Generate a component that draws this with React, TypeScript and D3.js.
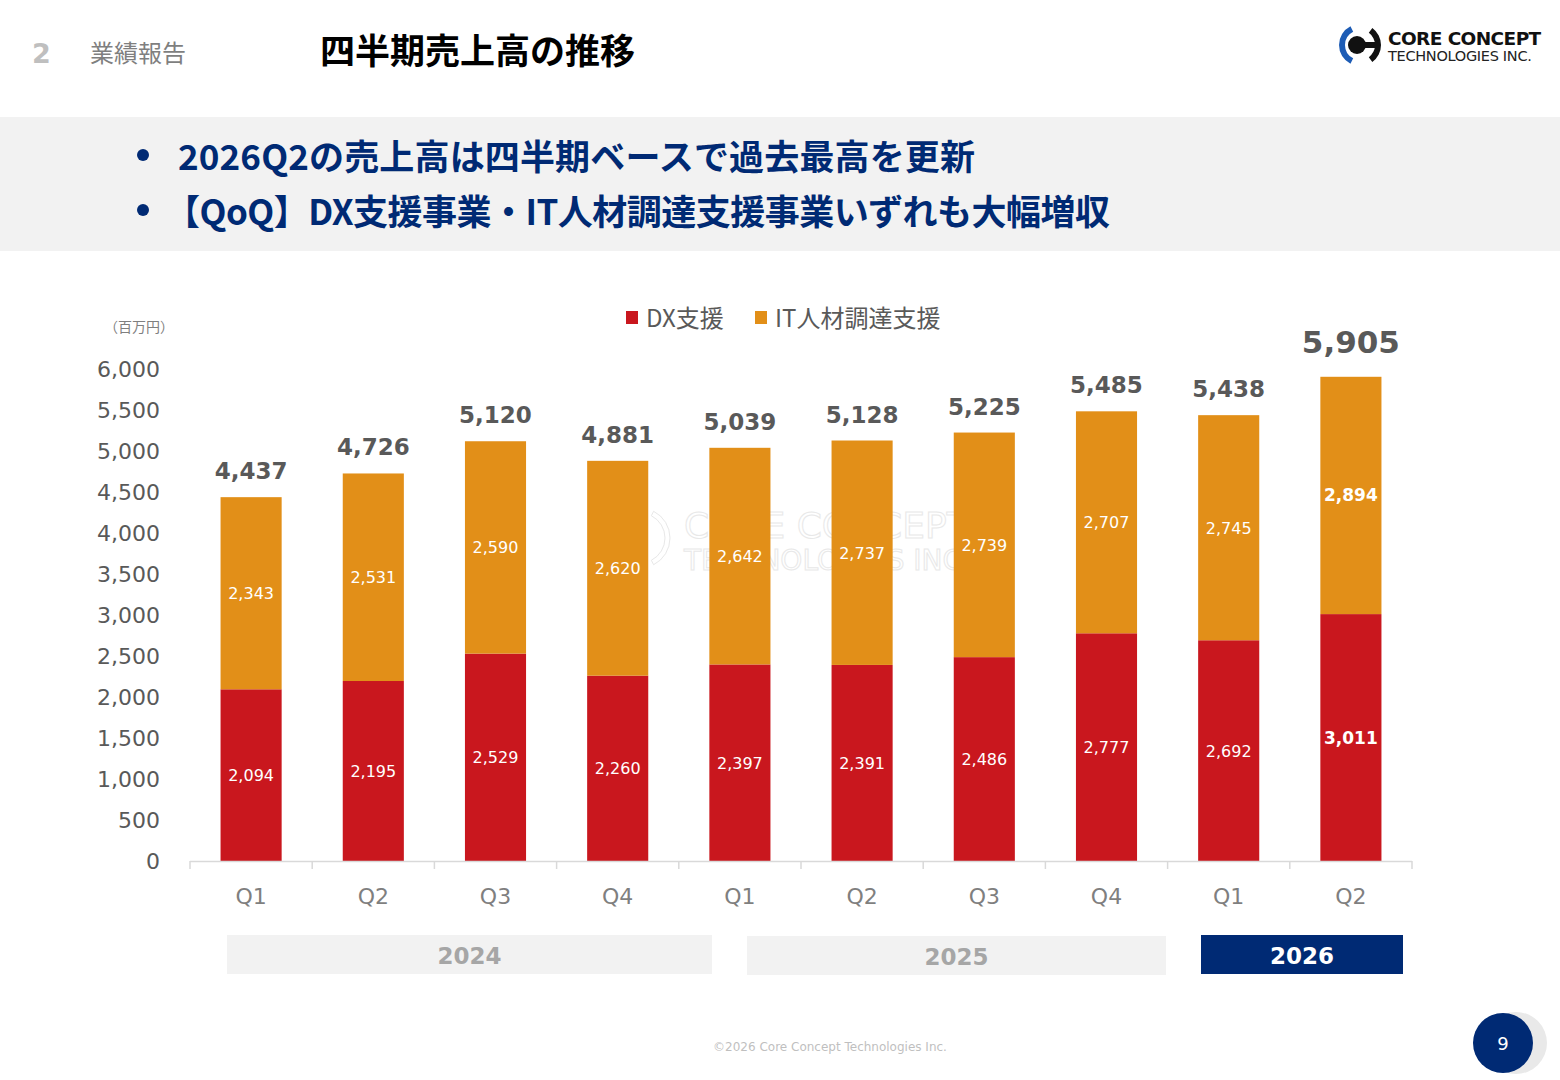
import React from "react";
import * as d3 from "d3";

const quarters = ["Q1", "Q2", "Q3", "Q4", "Q1", "Q2", "Q3", "Q4", "Q1", "Q2"];
const dxValues = [2094, 2195, 2529, 2260, 2397, 2391, 2486, 2777, 2692, 3011];
const itValues = [2343, 2531, 2590, 2620, 2642, 2737, 2739, 2707, 2745, 2894];
const totals = [4437, 4726, 5120, 4881, 5039, 5128, 5225, 5485, 5438, 5905];
const yTicks = [0, 500, 1000, 1500, 2000, 2500, 3000, 3500, 4000, 4500, 5000, 5500, 6000];
const seriesNames = ["DX支援", "IT人材調達支援"];
const yearLabels = ["2024", "2025", "2026"];
const bullets = [
  "2026Q2の売上高は四半期ベースで過去最高を更新",
  "【QoQ】DX支援事業・IT人材調達支援事業いずれも大幅増収",
];

const RED = "#c9171e";
const ORANGE = "#e28f18";
const NAVY = "#002a74";
const GREY = "#595959";
const NUM = "'DejaVu Sans', Verdana, sans-serif";
const JP = "'Noto Sans CJK JP', 'Noto Sans', sans-serif";

// layout of year boxes and bullet lines (pixel geometry, not data)
const yearBoxes = [
  { x0: 227, x1: 712, y: 935, fill: "#f2f2f2", text: "#a6a6a6" },
  { x0: 747, x1: 1166, y: 936, fill: "#f2f2f2", text: "#a6a6a6" },
  { x0: 1201, x1: 1403, y: 935, fill: NAVY, text: "#ffffff" },
];
const bulletLines = [
  { x: 178, w: 797 },
  { x: 165, w: 945 },
];

export default function App() {
  const x = d3.scaleBand<number>().domain(d3.range(quarters.length)).range([190, 1412]).paddingInner(0.5).paddingOuter(0.25);
  const y = d3.scaleLinear().domain([0, 6000]).range([861, 369]);
  const step = x.step();
  const bw = x.bandwidth();
  const fmt = d3.format(",");
  const boundaries = d3.range(quarters.length + 1).map((i) => 190 + i * step);
  const last = quarters.length - 1;

  return (
    <svg
      width={1560}
      height={1080}
      style={{ position: "absolute", left: 0, top: 0, background: "#fff" }}
    >
      <rect x={0} y={0} width={1560} height={1080} fill="#fff" />
      {/* header */}
      <text x={32} y={63} fontFamily={NUM} fontWeight="bold" fontSize={27} fill="#bfbfbf">2</text>
      <text x={90} y={62} fontFamily={JP} fontSize={24} fill="#7f7f7f">業績報告</text>
      <text x={320} y={64} fontFamily={JP} fontWeight="bold" fontSize={35} fill="#000">四半期売上高の推移</text>

      {/* logo */}
      <g transform="translate(1360,45)">
        <path d={d3.arc()({ innerRadius: 15, outerRadius: 21, startAngle: Math.PI * 1.15, endAngle: Math.PI * 1.85 }) as string} fill="#1d5cb5" />
        <path d={d3.arc()({ innerRadius: 15, outerRadius: 21, startAngle: Math.PI * 0.2, endAngle: Math.PI * 0.8 }) as string} fill="#111" />
        <circle cx={-3} cy={0} r={9} fill="#111" />
        <rect x={-3} y={-3} width={18} height={6} fill="#111" />
      </g>
      <text x={1388} y={45} fontFamily={NUM} fontWeight="bold" fontSize={18.5} fill="#111" letterSpacing={-0.6}>CORE CONCEPT</text>
      <text x={1388} y={61} fontFamily={NUM} fontSize={14.5} fill="#222" letterSpacing={-0.3}>TECHNOLOGIES INC.</text>

      {/* bullet band */}
      <rect x={0} y={117} width={1560} height={134} fill="#f2f2f2" />
      {bullets.map((b, i) => (
        <g key={i}>
          <circle cx={143} cy={155 + i * 55} r={6} fill={NAVY} />
          <text x={bulletLines[i].x} y={170 + i * 55} fontFamily={JP} fontWeight="bold" fontSize={35} fill={NAVY} textLength={bulletLines[i].w} lengthAdjust="spacing">{b}</text>
        </g>
      ))}

      {/* watermark */}
      <g opacity={0.9}>
        <text x={684} y={538} fontFamily={NUM} fontSize={36} fill="none" stroke="#e6e6e6" strokeWidth={1}>CORE CONCEPT</text>
        <text x={684} y={570} fontFamily={NUM} fontSize={28} fill="none" stroke="#e6e6e6" strokeWidth={1}>TECHNOLOGIES INC.</text>
        <path d={d3.arc()({ innerRadius: 25, outerRadius: 30, startAngle: Math.PI * 0.15, endAngle: Math.PI * 0.85 }) as string} transform="translate(640,538)" fill="none" stroke="#e6e6e6" />
      </g>

      {/* unit & legend */}
      <text x={104} y={332} fontFamily={JP} fontSize={14} fill="#7f7f7f">（百万円）</text>
      {seriesNames.map((s, i) => {
        const lx = i === 0 ? 626 : 755;
        return (
          <g key={s}>
            <rect x={lx} y={311} width={12} height={13} fill={i === 0 ? RED : ORANGE} />
            <text x={lx + 20} y={327} fontFamily={JP} fontSize={24} fill={GREY}>{s}</text>
          </g>
        );
      })}

      {/* y ticks */}
      {yTicks.map((t) => (
        <text key={t} x={160} y={y(t) + 8} textAnchor="end" fontFamily={NUM} fontSize={22} fill={GREY}>{fmt(t)}</text>
      ))}

      {/* bars */}
      {quarters.map((q, i) => {
        const bx = x(i)!;
        const dx = dxValues[i];
        const it = itValues[i];
        const bold = i === last;
        return (
          <g key={i}>
            <rect x={bx} y={y(dx)} width={bw} height={y(0) - y(dx)} fill={RED} />
            <rect x={bx} y={y(dx + it)} width={bw} height={y(dx) - y(dx + it)} fill={ORANGE} />
            <text x={bx + bw / 2} y={y(dx / 2) + 6} textAnchor="middle" fontFamily={NUM} fontSize={bold ? 17 : 16} fontWeight={bold ? "bold" : "normal"} fill="#fff">{fmt(dx)}</text>
            <text x={bx + bw / 2} y={y(dx + it / 2) + 6} textAnchor="middle" fontFamily={NUM} fontSize={bold ? 17 : 16} fontWeight={bold ? "bold" : "normal"} fill="#fff">{fmt(it)}</text>
            <text x={bx + bw / 2} y={y(totals[i]) - (bold ? 24 : 18)} textAnchor="middle" fontFamily={NUM} fontWeight="bold" fontSize={bold ? 31 : 23} fill={GREY}>{fmt(totals[i])}</text>
            <text x={bx + bw / 2} y={904} textAnchor="middle" fontFamily={NUM} fontSize={22} fill="#7f7f7f">{q}</text>
          </g>
        );
      })}

      {/* x axis */}
      <line x1={190} x2={1412} y1={861.5} y2={861.5} stroke="#d9d9d9" strokeWidth={1.5} />
      {boundaries.map((bx, i) => (
        <line key={i} x1={bx} x2={bx} y1={861} y2={869} stroke="#d9d9d9" strokeWidth={1.5} />
      ))}

      {/* year boxes */}
      {yearBoxes.map((b, i) => (
        <g key={i}>
          <rect x={b.x0} y={b.y} width={b.x1 - b.x0} height={39} fill={b.fill} />
          <text x={(b.x0 + b.x1) / 2} y={b.y + 29} textAnchor="middle" fontFamily={NUM} fontWeight="bold" fontSize={23} fill={b.text}>{yearLabels[i]}</text>
        </g>
      ))}

      {/* footer */}
      <text x={830} y={1051} textAnchor="middle" fontFamily={NUM} fontSize={12} fill="#bfbfbf">©2026 Core Concept Technologies Inc.</text>
      <circle cx={1516} cy={1043} r={31} fill="#e9e9e9" />
      <circle cx={1503} cy={1043} r={30} fill={NAVY} />
      <text x={1503} y={1050} textAnchor="middle" fontFamily={NUM} fontSize={18} fill="#fff">9</text>
    </svg>
  );
}
